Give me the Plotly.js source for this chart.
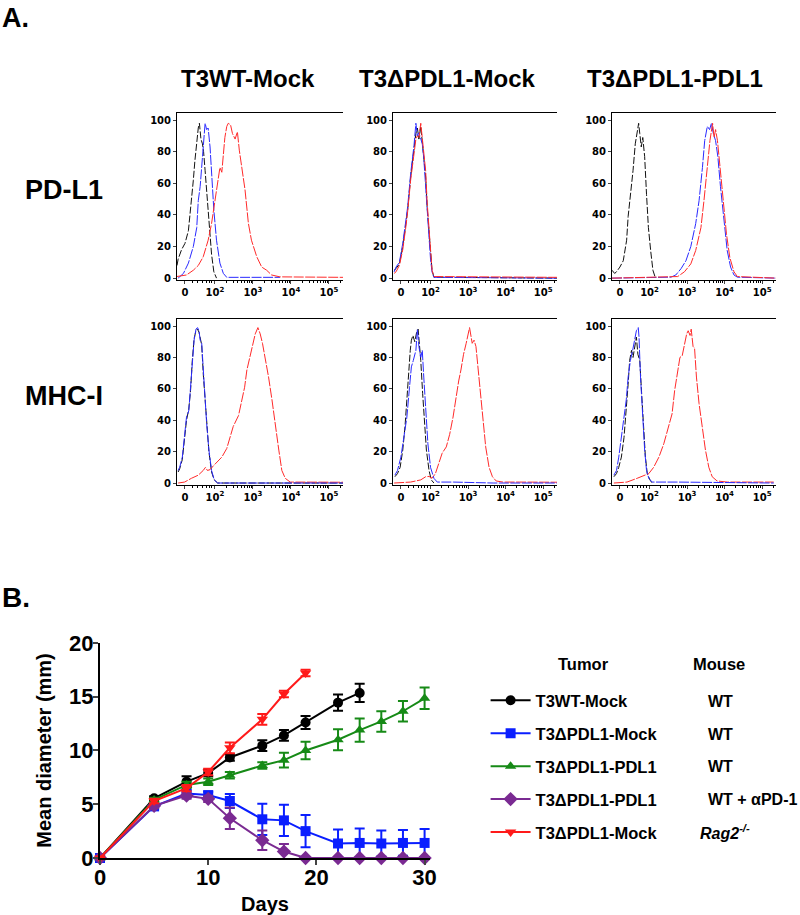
<!DOCTYPE html>
<html><head><meta charset="utf-8">
<script src="https://cdn.plot.ly/plotly-3.0.1.min.js"></script>
<style>body{margin:0;background:#fff}#chart{width:800px;height:915px}</style>
</head><body><div id="chart"></div><script>
// ---------- Panel A: flow histograms (x in log-display units: 0 -> 1.21, 10^2 -> 2, 10^3 -> 3 ...) ----------
const histTickVals = [1.21, 2, 3, 4, 5];
const histTickText = ["0", "10<sup>2</sup>", "10<sup>3</sup>", "10<sup>4</sup>", "10<sup>5</sup>"];
const yTickVals = [0, 20, 40, 60, 80, 100];
const columnTitles = ["T3WT-Mock", "T3\u0394PDL1-Mock", "T3\u0394PDL1-PDL1"];
const rowTitles = ["PD-L1", "MHC-I"];

// PD-L1 / T3WT-Mock
const pdWtIsoX = [1.00,1.03,1.12,1.21,1.30,1.39,1.43,1.47,1.53,1.56,1.59,1.63,1.67,1.70,1.74,1.78,1.85,1.91,1.97,2.04];
const pdWtIsoY = [8,12,18,22,30,50,62,74,90,95,98,88,85,80,68,54,32,15,4,0];
const pdWtBlueX = [1.03,1.17,1.30,1.43,1.52,1.56,1.61,1.65,1.69,1.74,1.78,1.82,1.87,1.91,1.97,2.04,2.13,2.22,2.31,3.71];
const pdWtBlueY = [0,3,9.5,20,32,49,58,70,87,98,94,95,83,64,43,24,9.5,3,0.5,0.5];
const pdWtRedX = [0.99,1.25,1.43,1.56,1.69,1.82,1.91,2.00,2.09,2.13,2.18,2.22,2.26,2.31,2.35,2.41,2.46,2.53,2.59,2.64,2.70,2.79,2.88,2.96,3.10,3.23,3.36,3.49,3.71,4.76,5.37];
const pdWtRedY = [1,2,5,8,13.5,24,34.6,49,62,70,67,81,89,96,98,97,91.5,88,92.6,81,70,56,34.6,24,13.5,7,5,2,0.8,0.5,0.5];

// PD-L1 / T3dPDL1-Mock
const pdKoX = [1.03,1.08,1.17,1.26,1.34,1.39,1.47,1.56,1.61,1.65,1.69,1.74,1.78,1.82,1.87,1.91,1.96,2.00,2.04,2.09,5.37];
const pdKoIsoY = [5,6,9,20,34,43,64,81,91.5,95,88,96,87,79,64,45,28,13,5,0.6,0];
const pdKoBlueY = [4,7,10,22,36,45,66,84,98,90,92,88,85,76,60,42,26,12,4,0.5,0];
const pdKoRedY = [3,4,8,18,32,42,62,80,88,90,89,98,90,82,68,48,30,14,5,1,0.5];

// PD-L1 / T3dPDL1-PDL1
const pdReIsoX = [1.00,1.07,1.12,1.21,1.30,1.39,1.43,1.52,1.56,1.62,1.67,1.71,1.74,1.78,1.82,1.87,1.92,1.97,2.03,2.09,2.15];
const pdReIsoY = [5,3,4,7,11,24,39,58,68,85,91.5,98,91.5,83,89,77,53,32,17.5,5,0.6];
const pdReBlueX = [1.00,2.57,2.70,2.84,2.97,3.10,3.23,3.32,3.41,3.47,3.54,3.60,3.65,3.70,3.76,3.82,3.89,3.98,4.07,4.16,4.25,4.34,5.37];
const pdReBlueY = [0,0.6,2,6,11,20,34.5,49,70,87,96,94,98,91.5,87,77,58,37,17.5,7,2,0.6,0];
const pdReRedX = [1.00,2.75,2.93,3.10,3.23,3.37,3.45,3.54,3.61,3.68,3.72,3.76,3.81,3.88,3.96,4.05,4.14,4.25,4.34,5.37];
const pdReRedY = [0,1,4,9,17.5,32,49,70,87,98,89,94,87,70,49,28,13,4,1,0];

// MHC-I / T3WT-Mock
const mhcWtX = [1.03,1.07,1.14,1.19,1.25,1.31,1.36,1.40,1.45,1.50,1.54,1.58,1.61,1.65,1.69,1.74,1.78,1.84,1.91,1.98,2.07,5.37];
const mhcWtIsoY = [7,9,15,27,40,47,60,77,92,97,98,96,92,88,70,53,36,20,7,2,0,0];
const mhcWtBlueY = [8,10,16.5,29,42,46,61,76,91,98,99,97,91,89,72,55,38,21,8,2,0,0];
const mhcWtRedX = [1.03,1.20,1.38,1.56,1.69,1.75,1.80,1.87,1.96,2.09,2.18,2.31,2.40,2.48,2.62,2.70,2.78,2.84,2.93,2.99,3.06,3.13,3.19,3.25,3.32,3.41,3.50,3.59,3.68,3.76,3.85,3.98,4.73,5.37];
const mhcWtRedY = [0,0.6,3,5,8,10,8,8.5,11,14.4,16.5,22,29,36,43,53,61,72,82,89,95,99,95,89,80,67.5,53,36,21,8,3,0.6,0.6,0.5];

// MHC-I / T3dPDL1-Mock
const mhcKoIsoX = [1.05,1.12,1.19,1.26,1.32,1.37,1.41,1.46,1.49,1.53,1.58,1.63,1.67,1.70,1.74,1.79,1.84,1.89,1.96,2.02,2.09];
const mhcKoIsoY = [4,6,10,21,36,55,67.5,84.5,91,94,90,96,98,91,78,57,36,21,8,2,0];
const mhcKoBlueX = [1.05,1.12,1.21,1.30,1.37,1.44,1.49,1.54,1.61,1.65,1.69,1.74,1.78,1.82,1.88,1.93,2.00,2.09,2.18,2.61,3.67,5.37];
const mhcKoBlueY = [5,8,16.5,31,42,61,74,78,84.5,98,87,80,84.5,67.5,46,25,10,3,0.6,0.6,0,0];
const mhcKoRedX = [1.03,1.47,1.74,1.87,1.96,2.04,2.13,2.22,2.31,2.42,2.51,2.60,2.69,2.75,2.81,2.88,2.95,3.01,3.04,3.11,3.16,3.21,3.27,3.33,3.40,3.47,3.56,3.65,3.75,3.93,4.37,5.37];
const mhcKoRedY = [0,0.6,2,4,4.2,3,6,12,19,23,31,42,57,65,72,82,89,95,99,89,91,87,72,55,38,23,10,4,1.3,0.6,0.6,0.5];

// MHC-I / T3dPDL1-PDL1
const mhcReIsoX = [1.05,1.12,1.18,1.25,1.32,1.38,1.43,1.47,1.52,1.56,1.60,1.65,1.69,1.74,1.79,1.85,1.89,1.94,2.01,2.07];
const mhcReIsoY = [4,6,10,16.5,29,46,63,78,84.5,80,85.5,93,82,78,57,29,16.5,6,2,0];
const mhcReBlueX = [1.05,1.12,1.18,1.25,1.32,1.38,1.43,1.49,1.55,1.60,1.65,1.70,1.72,1.76,1.81,1.87,1.92,1.98,2.07,2.73,5.31];
const mhcReBlueY = [5,8,16.5,29,40,53,67.5,78,84.5,91,97,99,93,67.5,42,21,8,3,0.6,0.6,0];
const mhcReRedX = [1.05,1.40,1.67,1.85,1.98,2.11,2.25,2.38,2.52,2.60,2.67,2.74,2.81,2.87,2.93,2.99,3.03,3.08,3.11,3.16,3.20,3.25,3.32,3.41,3.49,3.58,3.67,3.80,4.07,5.31];
const mhcReRedY = [0,0.6,3,5,6,10,16.5,25,38,44,59,70,80,81,89,95,97,94,98,87,86,67.5,50.5,33.5,21,10,4,1.3,0.6,0.6];

// ---------- Panel B: tumour growth ----------
const seriesNames = ["T3WT-Mock", "T3\u0394PDL1-Mock", "T3\u0394PDL1-PDL1", "T3\u0394PDL1-PDL1", "T3\u0394PDL1-Mock"];
const mouseLabels = ["WT", "WT", "WT", "WT + \u03b1PD-1", "<i>Rag2<sup>-/-</sup></i>"];
const wtMockDays = [0,5,8,10,12,15,17,19,22,24];
const wtMockMean = [0,5.55,7.1,7.9,9.35,10.45,11.4,12.6,14.45,15.35];
const wtMockErr  = [0,0.2,0.5,0.3,0.3,0.5,0.5,0.6,0.75,0.85];
const koMockDays = [0,5,8,10,12,15,17,19,22,24,26,28,30];
const koMockMean = [0,4.8,6.0,5.85,5.3,3.6,3.5,2.5,1.35,1.4,1.35,1.4,1.4];
const koMockErr  = [0,0.2,0.3,0.3,0.65,1.45,1.45,1.5,1.3,1.35,1.2,1.2,1.3];
const koPdl1Days = [0,5,8,10,12,15,17,19,22,24,26,28,30];
const koPdl1Mean = [0,5.4,6.8,7.1,7.7,8.6,9.1,10.0,11.0,11.9,12.7,13.65,14.85];
const koPdl1Err  = [0,0.2,0.3,0.3,0.3,0.3,0.68,0.82,0.98,1.08,0.96,0.96,1.0];
const koPdl1AbDays = [0,5,8,10,12,15,17,19,22,24,26,28,30];
const koPdl1AbMean = [0,4.85,5.8,5.5,3.7,1.65,0.6,0,0,0,0,0,0];
const koPdl1AbErr  = [0,0.2,0.3,0.3,1.0,0.9,0.7,0,0,0,0,0,0];
const ragDays = [0,5,8,10,12,15,17,19];
const ragMean = [0,5.3,6.5,8.0,10.25,12.9,15.25,17.2];
const ragErr  = [0,0.2,0.3,0.3,0.5,0.5,0.3,0.3];

// ---------- build ----------
const FONT = "Arial, 'Liberation Sans', sans-serif";
const BLACK = "#111111", BLUE = "#2a2aff", RED = "#ff2a2a";
const traces = [];
function hist(x, y, color, dash, ax) {
  traces.push({x: x, y: y, type: "scatter", mode: "lines", xaxis: "x" + ax, yaxis: "y" + ax,
    line: {color: color, width: 1, dash: dash, shape: "linear"}, showlegend: false, hoverinfo: "skip"});
}
const ISO = "7px,2px", STAIN = "10px,1.5px";
hist(pdWtIsoX, pdWtIsoY, BLACK, ISO, 1); hist(pdWtBlueX, pdWtBlueY, BLUE, STAIN, 1); hist(pdWtRedX, pdWtRedY, RED, STAIN, 1);
hist(pdKoX, pdKoIsoY, BLACK, ISO, 2); hist(pdKoX, pdKoBlueY, BLUE, STAIN, 2); hist(pdKoX, pdKoRedY, RED, STAIN, 2);
hist(pdReIsoX, pdReIsoY, BLACK, ISO, 3); hist(pdReBlueX, pdReBlueY, BLUE, STAIN, 3); hist(pdReRedX, pdReRedY, RED, STAIN, 3);
hist(mhcWtX, mhcWtIsoY, BLACK, ISO, 4); hist(mhcWtRedX, mhcWtRedY, RED, STAIN, 4); hist(mhcWtX, mhcWtBlueY, BLUE, STAIN, 4);
hist(mhcKoIsoX, mhcKoIsoY, BLACK, ISO, 5); hist(mhcKoRedX, mhcKoRedY, RED, STAIN, 5); hist(mhcKoBlueX, mhcKoBlueY, BLUE, STAIN, 5);
hist(mhcReIsoX, mhcReIsoY, BLACK, ISO, 6); hist(mhcReRedX, mhcReRedY, RED, STAIN, 6); hist(mhcReBlueX, mhcReBlueY, BLUE, STAIN, 6);

const growth = [
  [wtMockDays, wtMockMean, wtMockErr, "#000000", "circle", 10],
  [koMockDays, koMockMean, koMockErr, "#0a1eff", "square", 10],
  [koPdl1Days, koPdl1Mean, koPdl1Err, "#168a16", "triangle-up", 10],
  [koPdl1AbDays, koPdl1AbMean, koPdl1AbErr, "#7a2a92", "diamond", 11],
  [ragDays, ragMean, ragErr, "#ff1a1a", "triangle-down", 10]
];
growth.forEach((g, i) => {
  traces.push({x: g[0], y: g[1], type: "scatter", mode: "lines+markers", xaxis: "x7", yaxis: "y7",
    name: "<b>" + seriesNames[i] + "</b>", legendgroup: "g" + i, cliponaxis: false,
    line: {color: g[3], width: 2}, marker: {color: g[3], symbol: g[4], size: g[5]},
    error_y: {type: "data", array: g[2], visible: true, color: g[3], thickness: 2, width: 5}});
});

// minor ticks for logicle-like axis
const minorVals = [1.4, 1.55, 1.67, 1.77, 1.85, 1.92];
for (let d = 2; d <= 4; d++) for (let k = 2; k <= 9; k++) minorVals.push(d + Math.log10(k));
minorVals.push(5.301);

const colDom = [[0.22125, 0.42875], [0.49125, 0.69625], [0.765, 0.97]];
const rowDom = [[0.6943, 0.8765], [0.4704, 0.6514]];
const layout = {
  width: 800, height: 915, margin: {l: 0, r: 0, t: 0, b: 0},
  paper_bgcolor: "#fff", plot_bgcolor: "#fff", font: {family: FONT, color: "#000"},
  showlegend: true,
  legend: {x: 0.607, y: 0.2535, xanchor: "left", yanchor: "top", traceorder: "grouped", tracegroupgap: 8.5,
    font: {family: FONT, size: 16.5, color: "#000"}, itemwidth: 40, bgcolor: "rgba(0,0,0,0)"},
  annotations: []
};
for (let r = 0; r < 2; r++) for (let c = 0; c < 3; c++) {
  const n = r * 3 + c + 1;
  layout["xaxis" + n] = {domain: colDom[c], anchor: "y" + n, range: [1.0, 5.37], showline: true, linecolor: "#000",
    linewidth: 1, mirror: true, showgrid: false, zeroline: false, ticks: "outside", ticklen: 3, tickwidth: 1,
    tickmode: "array", tickvals: histTickVals, ticktext: histTickText,
    minor: {tickmode: "array", tickvals: minorVals, ticks: "outside", ticklen: 2, tickwidth: 1, tickcolor: "#000"},
    tickfont: {family: "'DejaVu Sans', sans-serif", size: 10, weight: "bold", color: "#000"}, fixedrange: true};
  layout["yaxis" + n] = {domain: rowDom[r], anchor: "x" + n, range: [-1, 104.5], showline: true, linecolor: "#000",
    linewidth: 1, showgrid: false, zeroline: false, ticks: "outside", ticklen: 3, tickwidth: 1,
    tickmode: "array", tickvals: yTickVals,
    tickfont: {family: "'DejaVu Sans', sans-serif", size: 10, weight: "bold", color: "#000"}, fixedrange: true};
}
layout.xaxis7 = {domain: [0.125, 0.5375], anchor: "y7", range: [0, 30.5], showline: true, linecolor: "#000", linewidth: 2,
  showgrid: false, zeroline: false, ticks: "outside", ticklen: 5, tickwidth: 2, tickmode: "array", tickvals: [0, 10, 20, 30],
  ticklabelstandoff: -6,
  tickfont: {family: FONT, size: 22, weight: "bold", color: "#000"},
  title: {text: "<b>Days</b>", font: {family: FONT, size: 20, color: "#000"}, standoff: 10}};
layout.yaxis7 = {domain: [0.0623, 0.2973], anchor: "x7", range: [0, 20], showline: true, linecolor: "#000", linewidth: 2,
  showgrid: false, zeroline: false, ticks: "outside", ticklen: 5, tickwidth: 2, tickmode: "array", tickvals: [0, 5, 10, 15, 20],
  ticklabelstandoff: -5,
  tickfont: {family: FONT, size: 22, weight: "bold", color: "#000"},
  title: {text: "<b>Mean diameter (mm)</b>", font: {family: FONT, size: 20, color: "#000"}, standoff: 12}};

function ann(text, x, y, size, xanchor) {
  layout.annotations.push({text: text, x: x, y: y, xref: "paper", yref: "paper", showarrow: false,
    xanchor: xanchor || "center", yanchor: "middle", font: {family: FONT, size: size, color: "#000"}});
}
ann("<b>A.</b>", 0.0, 1 - 18 / 915, 27, "left");
ann("<b>B.</b>", 0.0, 1 - 597 / 915, 28, "left");
const colCenters = [248, 447, 675];
columnTitles.forEach((t, i) => ann("<b>" + t + "</b>", colCenters[i] / 800, 1 - 78 / 915, 24));
ann("<b>" + rowTitles[0] + "</b>", 64 / 800, 1 - 190 / 915, 27);
ann("<b>" + rowTitles[1] + "</b>", 64 / 800, 1 - 396 / 915, 27);
ann("<b>Tumor</b>", 583 / 800, 1 - 664 / 915, 16.5);
ann("<b>Mouse</b>", 719 / 800, 1 - 664 / 915, 16.5);
const rowYs = [701, 734, 766, 799, 832];
mouseLabels.forEach((m, i) => ann("<b>" + m + "</b>", (i === 4 ? 698 : 706) / 800, 1 - rowYs[i] / 915, 16, "left"));

Plotly.newPlot("chart", traces, layout, {staticPlot: true, displayModeBar: false});
</script></body></html>
